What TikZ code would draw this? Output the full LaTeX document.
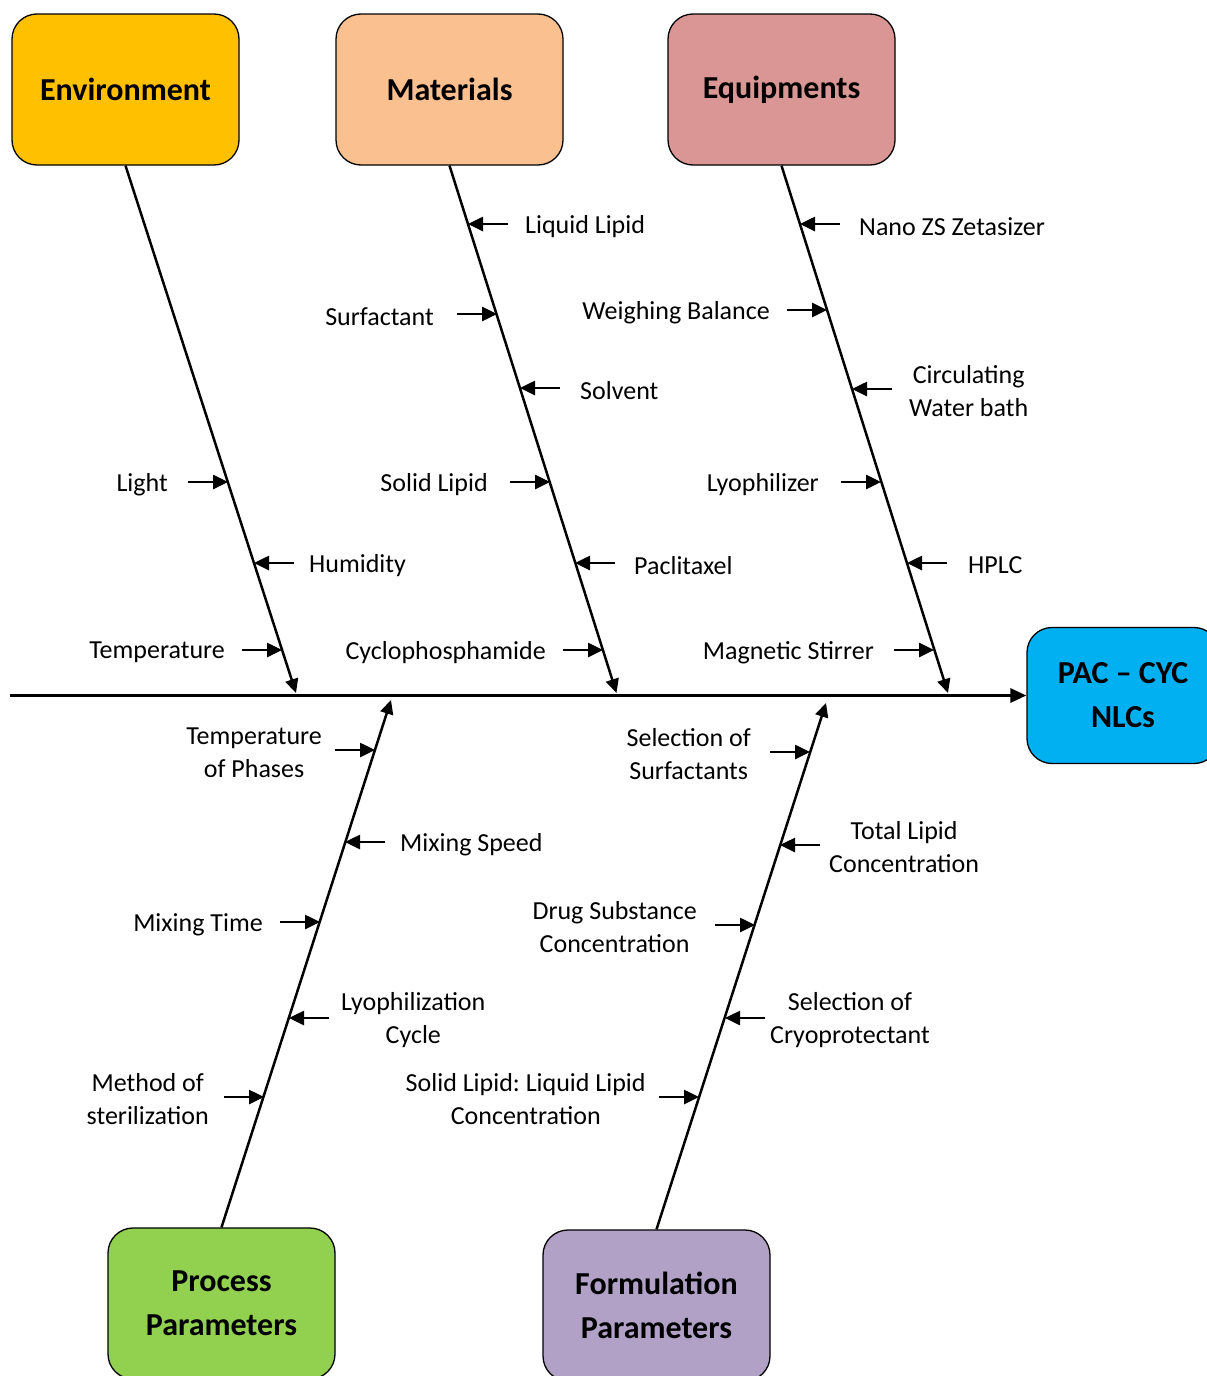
\documentclass[tikz,border=0pt]{standalone}
\usepackage{fontspec}
\setmainfont{Carlito}
\usetikzlibrary{positioning,arrows.meta}
\frenchspacing

\definecolor{envfill}{HTML}{FFC000}
\definecolor{matfill}{HTML}{FAC090}
\definecolor{eqfill}{HTML}{D99694}
\definecolor{procfill}{HTML}{92D050}
\definecolor{formfill}{HTML}{B2A1C7}
\definecolor{pacfill}{HTML}{00B0F0}

\tikzset{
  head/.style={draw,line width=1.3pt,rounded corners=25pt,minimum width=227pt,
    minimum height=151pt,align=center,font=\fontsize{32}{44}\selectfont\bfseries},
  bone/.style={line width=2.5pt,-{Triangle[length=14pt,width=13pt]}},
  sub/.style={line width=2.6pt,-{Triangle[length=15pt,width=14pt]}},
  lab/.style={inner sep=0pt,yshift=-2.5pt,align=center,font=\fontsize{26}{33}\selectfont}
}

\begin{document}
\begin{tikzpicture}[x=1pt,y=-1pt]
  \clip (0,0) rectangle (1207,1376);

  % category boxes
  \node[head,fill=envfill] (env) at (125.5,89.5) {Environment};
  \node[head,fill=matfill] (mat) at (449.5,89.5) {Materials};
  \node[head,fill=eqfill] (equip) at (781.5,89.5) {Equipments};
  \node[head,fill=procfill] (proc) at (221.5,1303.5) {Process\\Parameters};
  \node[head,fill=formfill] (form) at (656.5,1305.5) {Formulation\\Parameters};
  \node[head,fill=pacfill,minimum width=192pt,minimum height=136pt] (pac) at (1123,695.5) {PAC – CYC\\NLCs};

  % spine and bones
  \coordinate (spine) at (10,695.5);
  \coordinate (envtip) at (296,693);
  \coordinate (mattip) at (616.5,693);
  \coordinate (equiptip) at (948,693);
  \coordinate (proctip) at (391,700);
  \coordinate (formtip) at (826,703);

  \draw[line width=3pt,-{Triangle[length=16pt,width=14pt]}] (spine) -- (pac);
  \foreach \b in {env,mat,equip}
    \draw[bone] (\b.south) -- (\b tip);
  \foreach \b in {proc,form}
    \draw[bone] (\b.north) -- (\b tip);

  % causes left of a bone
  \foreach \n/\bx/\by/\g/\t in {
      light/228/482/20pt/Light,
      temp/282/650/17pt/Temperature,
      surf/497/314/23pt/Surfactant,
      solid/550/482/22pt/Solid Lipid,
      cyclo/603/650/17pt/Cyclophosphamide,
      weigh/827/310/17pt/Weighing Balance,
      lyo/881/482/22pt/Lyophilizer,
      stir/934/650/20pt/Magnetic Stirrer,
      phase/375/750/13pt/{Temperature\\of Phases},
      mixt/320/922/17pt/Mixing Time,
      steril/264/1097/15pt/{Method of\\sterilization},
      selsurf/810/752/19pt/{Selection of\\Surfactants},
      drug/755/925/18pt/{Drug Substance\\Concentration},
      ratio/699/1097/13pt/{Solid Lipid: Liquid Lipid\\Concentration}}{
    \coordinate (\n-b) at (\bx,\by);
    \coordinate (\n-a) at (\bx-40,\by);
    \node[lab,left=\g of \n-a] (\n) {\t};
    \draw[sub] (\n-a) -- (\n-b);
  }

  % causes right of a bone
  \foreach \n/\bx/\by/\g/\t in {
      liquid/468/224/17pt/Liquid Lipid,
      humid/254/563/15pt/Humidity,
      solvent/520/388/20pt/Solvent,
      pacli/575/563/19pt/Paclitaxel,
      nano/800/224/19pt/Nano ZS Zetasizer,
      circ/852/389/17pt/{Circulating\\Water bath},
      hplc/907/563/21pt/HPLC,
      mixs/345/842/15pt/Mixing Speed,
      lyoc/289/1018/12pt/{Lyophilization\\Cycle},
      total/780/845/9pt/{Total Lipid\\Concentration},
      cryo/725/1018/5pt/{Selection of\\Cryoprotectant}}{
    \coordinate (\n-b) at (\bx,\by);
    \coordinate (\n-a) at (\bx+40,\by);
    \node[lab,right=\g of \n-a] (\n) {\t};
    \draw[sub] (\n-a) -- (\n-b);
  }

\end{tikzpicture}
\end{document}
